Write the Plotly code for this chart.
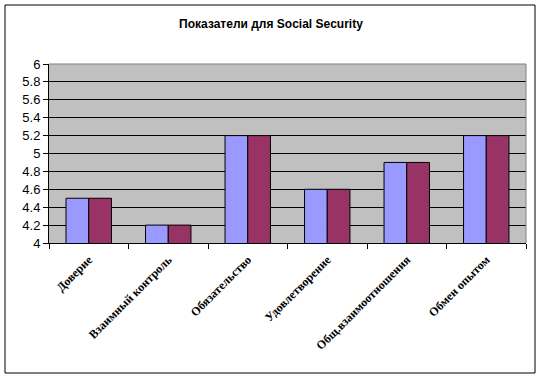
import plotly.graph_objects as go

categories = ["Доверие", "Взаимный контроль", "Обязательство", "Удовлетворение",
              "Общ.взаимоотношения", "Обмен опытом"]
series1 = [4.5, 4.2, 5.2, 4.6, 4.9, 5.2]
series2 = [4.5, 4.2, 5.2, 4.6, 4.9, 5.2]
y_ticks = [4, 4.2, 4.4, 4.6, 4.8, 5, 5.2, 5.4, 5.6, 5.8, 6]
y_tick_labels = ["4", "4.2", "4.4", "4.6", "4.8", "5", "5.2", "5.4", "5.6", "5.8", "6"]

W, H = 542, 378
L, R, T, B = 49, 16, 64, 135
pw, ph = W - L - R, H - T - B

fig = go.Figure()
fig.add_trace(go.Bar(x=categories, y=series1, marker=dict(color="#9999FF", line=dict(color="black", width=1)),
                     showlegend=False))
fig.add_trace(go.Bar(x=categories, y=series2, marker=dict(color="#993366", line=dict(color="black", width=1)),
                     showlegend=False))

def px2paper_x(px):
    return (px - L) / pw

def px2paper_y(py):
    return (H - B - py) / ph

fig.update_layout(
    width=W, height=H,
    margin=dict(l=L, r=R, t=T, b=B, autoexpand=False),
    paper_bgcolor="white",
    plot_bgcolor="#C0C0C0",
    barmode="group",
    bargap=1.5 / 3.5,
    bargroupgap=0,
    title=dict(text="<b>Показатели для Social Security</b>", x=0.5, xref="container",
               y=1 - 24 / H, yref="container", yanchor="middle",
               font=dict(family="Arial, Liberation Sans", size=12, color="black")),
    xaxis=dict(
        tickangle=-45,
        tickfont=dict(family="Liberation Serif, Times New Roman", size=12, color="black", weight="bold"),
        showline=True, linecolor="black", linewidth=1,
        ticks="outside", ticklen=5, tickcolor="black",
        tickson="boundaries",
        ticklabelstandoff=4,
        showgrid=False, mirror=False,
    ),
    yaxis=dict(
        range=[4, 6],
        tickvals=y_ticks, ticktext=y_tick_labels,
        tickfont=dict(family="Arial, Liberation Sans", size=13, color="black"),
        showline=True, linecolor="black", linewidth=1,
        ticks="outside", ticklen=5, tickcolor="black",
        showgrid=True, gridcolor="black", gridwidth=1,
        zeroline=False,
    ),
    shapes=[
        dict(type="rect", xref="paper", yref="paper",
             x0=px2paper_x(5), x1=px2paper_x(535), y0=px2paper_y(373), y1=px2paper_y(5),
             line=dict(color="black", width=1), fillcolor="rgba(0,0,0,0)", layer="below"),
        dict(type="line", xref="paper", yref="paper", x0=0, x1=1, y0=1, y1=1,
             line=dict(color="#808080", width=1)),
        dict(type="line", xref="paper", yref="paper", x0=1, x1=1, y0=0, y1=1,
             line=dict(color="#808080", width=1)),
    ],
)

fig.write_html("out.html", config={"displayModeBar": False},
               post_script="document.body.style.margin='0';")
